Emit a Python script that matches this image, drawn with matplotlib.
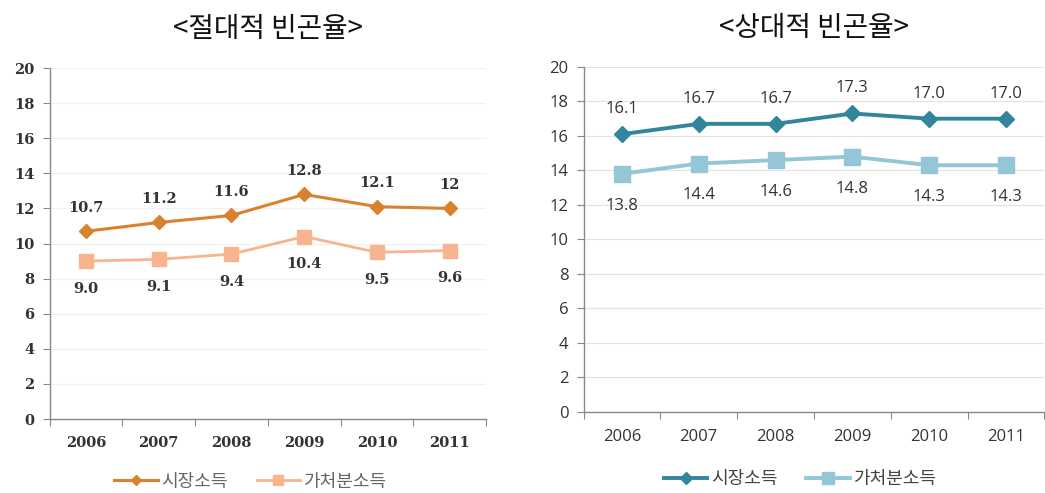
import matplotlib
matplotlib.use("Agg")
import matplotlib.pyplot as plt

plt.rcParams['font.family'] = ['Noto Sans CJK KR', 'DejaVu Sans']

years = ['2006', '2007', '2008', '2009', '2010', '2011']

# absolute poverty rate
abs_market = [10.7, 11.2, 11.6, 12.8, 12.1, 12.0]
abs_market_lbl = ['10.7', '11.2', '11.6', '12.8', '12.1', '12']
abs_disp = [9.0, 9.1, 9.4, 10.4, 9.5, 9.6]
abs_disp_lbl = ['9.0', '9.1', '9.4', '10.4', '9.5', '9.6']

# relative poverty rate
rel_market = [16.1, 16.7, 16.7, 17.3, 17.0, 17.0]
rel_market_lbl = ['16.1', '16.7', '16.7', '17.3', '17.0', '17.0']
rel_disp = [13.8, 14.4, 14.6, 14.8, 14.3, 14.3]
rel_disp_lbl = ['13.8', '14.4', '14.6', '14.8', '14.3', '14.3']

series_names = ['시장소득', '가처분소득']
yticks = list(range(0, 21, 2))

fig = plt.figure(figsize=(10.45, 4.93), dpi=100)
ax1 = fig.add_axes([0.0475, 0.150, 0.4176, 0.712])
ax2 = fig.add_axes([0.5584, 0.1643, 0.4410, 0.700])


def setup(ax, grid_color, tick_font, tick_weight, tick_size):
    x = list(range(len(years)))
    ax.set_xlim(-0.5, len(years) - 0.5)
    ax.set_ylim(0, 20)
    ax.set_yticks(yticks)
    ax.set_yticklabels([str(v) for v in yticks], fontfamily=tick_font,
                       fontweight=tick_weight, fontsize=tick_size, color='#333333')
    ax.set_xticks([i - 0.5 for i in range(len(years) + 1)])
    ax.set_xticklabels([])
    ax.set_xticks(x, minor=True)
    ax.set_xticklabels(years, minor=True, fontfamily=tick_font,
                       fontweight=tick_weight, fontsize=tick_size, color='#333333')
    ax.tick_params(axis='x', which='minor', length=0, pad=12)
    ax.tick_params(axis='x', which='major', length=5, color='#888888', direction='out')
    ax.tick_params(axis='y', length=5, color='#888888', pad=6)
    for s in ['top', 'right']:
        ax.spines[s].set_visible(False)
    for s in ['left', 'bottom']:
        ax.spines[s].set_color('#888888')
        ax.spines[s].set_linewidth(1.0)
    ax.grid(axis='y', color=grid_color, linewidth=0.8)
    ax.set_axisbelow(True)
    return x


# left chart
x = setup(ax1, '#f0f0f0', 'DejaVu Serif', 'bold', 10.5)
ax1.plot(x, abs_market, color='#D9822E', marker='D', markersize=7, linewidth=2.2,
         label=series_names[0])
ax1.plot(x, abs_disp, color='#F8B48E', marker='s', markersize=10, linewidth=2.0,
         label=series_names[1])
for i in x:
    ax1.annotate(abs_market_lbl[i], (i, abs_market[i]), xytext=(0, 17),
                 textcoords='offset points', ha='center', va='center',
                 fontfamily='DejaVu Serif', fontweight='bold', fontsize=10.5,
                 color='#333333')
    ax1.annotate(abs_disp_lbl[i], (i, abs_disp[i]), xytext=(0, -20),
                 textcoords='offset points', ha='center', va='center',
                 fontfamily='DejaVu Serif', fontweight='bold', fontsize=10.5,
                 color='#333333')
ax1.legend(loc='center', bbox_to_anchor=(0.46, -0.178), ncol=2, frameon=False,
           fontsize=13, handlelength=2.4, columnspacing=1.6, handletextpad=0.2,
           markerscale=0.75, labelcolor='#666666')
ax1.set_title('<절대적 빈곤율>', fontsize=20, pad=22, color='#111111')

# right chart
x = setup(ax2, '#e2e2e2', 'Open Sans', 'normal', 12)
ax2.plot(x, rel_market, color='#31859C', marker='D', markersize=8, linewidth=2.8,
         label=series_names[0])
ax2.plot(x, rel_disp, color='#93C6D6', marker='s', markersize=11, linewidth=2.8,
         label=series_names[1])
for i in x:
    ax2.annotate(rel_market_lbl[i], (i, rel_market[i]), xytext=(0, 18),
                 textcoords='offset points', ha='center', va='center',
                 fontfamily='Open Sans', fontsize=12, color='#333333')
    ax2.annotate(rel_disp_lbl[i], (i, rel_disp[i]), xytext=(0, -23),
                 textcoords='offset points', ha='center', va='center',
                 fontfamily='Open Sans', fontsize=12, color='#333333')
ax2.legend(loc='center', bbox_to_anchor=(0.47, -0.195), ncol=2, frameon=False,
           fontsize=13, handlelength=2.4, columnspacing=1.6, handletextpad=0.2,
           markerscale=0.8, labelcolor='#444444')
ax2.set_title('<상대적 빈곤율>', fontsize=20, pad=22, color='#111111')

fig.savefig('out.png', dpi=100)
